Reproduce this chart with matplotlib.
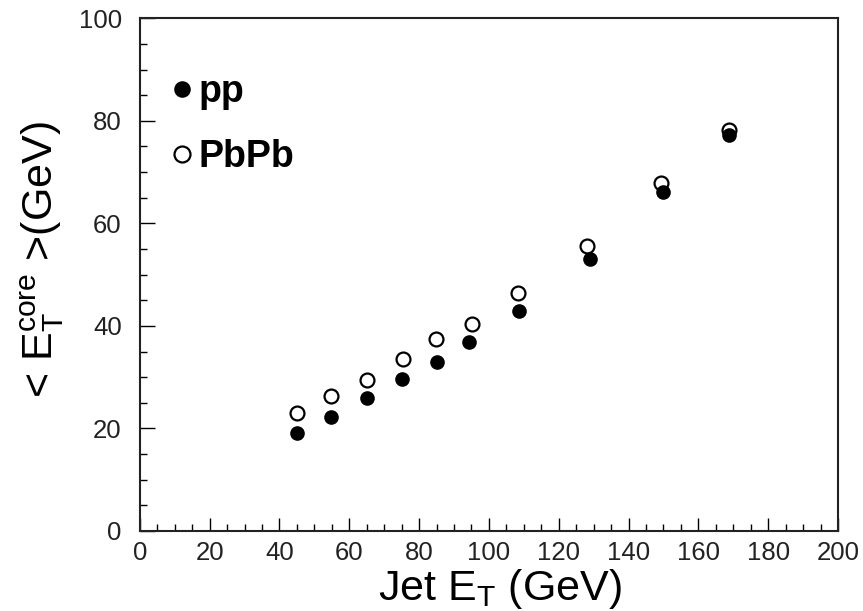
import numpy as np
import matplotlib
matplotlib.use("Agg")
import matplotlib.pyplot as plt
from matplotlib.ticker import MultipleLocator

plt.rcParams['font.family'] = ['Liberation Sans', 'DejaVu Sans']
plt.rcParams['mathtext.fontset'] = 'custom'
plt.rcParams['mathtext.rm'] = 'Liberation Sans'
plt.rcParams['mathtext.it'] = 'Liberation Sans'

# jet ET bins (GeV)
jet_et_pp = [45.1, 54.7, 65.2, 75.1, 85.1, 94.4, 108.7, 129.0, 149.9, 168.7]
core_pp = [19.2, 22.2, 25.9, 29.7, 32.9, 36.8, 42.9, 53.1, 66.1, 77.3]

jet_et_pbpb = [45.1, 54.8, 65.0, 75.5, 84.9, 95.2, 108.4, 128.2, 149.2, 168.7]
core_pbpb = [23.1, 26.3, 29.4, 33.6, 37.5, 40.4, 46.4, 55.6, 67.9, 78.3]

fig = plt.figure(figsize=(8.63, 6.11), dpi=100)
ax = fig.add_axes([0.162, 0.131, 0.809, 0.839])

ax.plot(jet_et_pbpb, core_pbpb, 'o', ms=10, mfc='white', mec='black', mew=1.6,
        label='PbPb', zorder=2)
ax.plot(jet_et_pp, core_pp, 'o', ms=9.5, mfc='black', mec='black',
        label='pp', zorder=3)

ax.set_xlim(0, 200)
ax.set_ylim(0, 100)
ax.xaxis.set_major_locator(MultipleLocator(20))
ax.xaxis.set_minor_locator(MultipleLocator(5))
ax.yaxis.set_major_locator(MultipleLocator(20))
ax.yaxis.set_minor_locator(MultipleLocator(5))

ax.tick_params(which='both', direction='in', top=False, right=False,
               labelsize=18.5, width=1.0, labelcolor='#222222')
ax.tick_params(axis='y', which='major', length=11, pad=13)
ax.tick_params(axis='y', which='minor', length=5)
ax.tick_params(axis='x', which='major', length=9.5, pad=7)
ax.tick_params(axis='x', which='minor', length=5)
for s in ax.spines.values():
    s.set_linewidth(1.5)
    s.set_color('#222222')

ax.set_xlabel('Jet E$_\\mathregular{T}$ (GeV)', fontsize=31, labelpad=0)
ax.xaxis.set_label_coords(0.516, -0.07)
ax.set_ylabel('< E$_\\mathregular{T}^\\mathregular{core}$ >(GeV)', fontsize=31)
ax.yaxis.set_label_coords(-0.106, 0.53)

h, l = ax.get_legend_handles_labels()
ax.legend(h[::-1], l[::-1], loc='upper left', bbox_to_anchor=(-0.004, 0.957),
          frameon=False, handletextpad=0.15, handlelength=0.6, markerscale=1.15,
          labelspacing=0.78, prop={'weight': 'bold', 'size': 27})

fig.savefig('out.png', dpi=100)
